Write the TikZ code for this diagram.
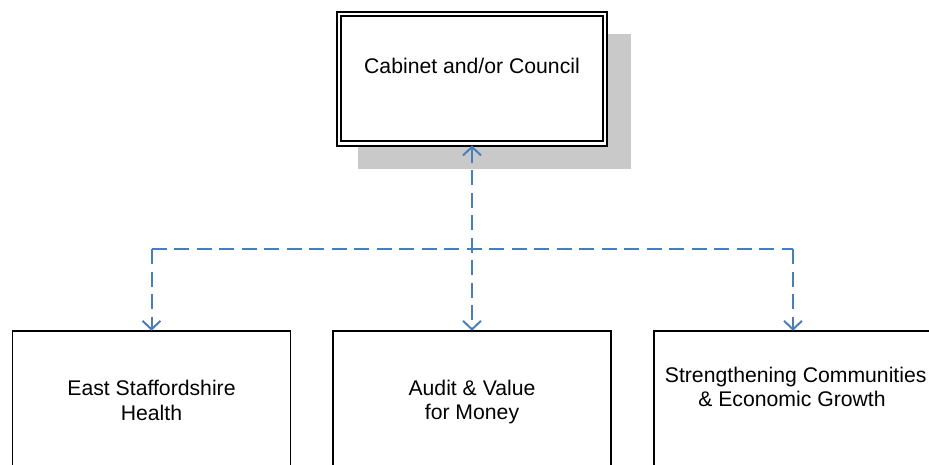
\documentclass[tikz,border=0pt]{standalone}
\usepackage{fontspec}
\setmainfont{Liberation Sans}
\usetikzlibrary{arrows.meta,calc,backgrounds}
\definecolor{linkblue}{HTML}{4A7EBB}
\definecolor{shadowgrey}{HTML}{C9C9C9}
\begin{document}
\begin{tikzpicture}[x=1pt,y=-1pt,
  labelfont/.style={font=\fontsize{21.2}{24.3}\selectfont},
  panel/.style={draw=black, line width=1.9pt, fill=white, inner sep=0pt,
    outer sep=0pt, minimum width=278pt, minimum height=140pt, anchor=north},
  headpanel/.style={draw=black, double=white, line width=1.9pt,
    double distance=2.4pt, fill=white, inner sep=0pt, outer sep=0pt,
    minimum width=266.2pt, minimum height=129.5pt},
  caption/.style={labelfont, align=center, inner sep=0pt, outer sep=0pt},
  link/.style={draw=linkblue, line width=2pt, dash pattern=on 15pt off 7.5pt,
    >={Straight Barb[length=8.5pt,width=18pt]}},
]
\useasboundingbox (0,0) rectangle (929,465);
\clip (0,0) rectangle (929,465);

% top committee box with its drop shadow
\node[headpanel] (cab) at (472,78.75) {};
\begin{scope}[on background layer]
  \fill[shadowgrey] ($(cab.north west)+(19.55,19.55)$)
    rectangle ($(cab.south east)+(25.85,25.85)$);
\end{scope}
\node[caption, anchor=base] (cabtext) at (472,73.3) {Cabinet and/or Council};

% the three panels below
\node[panel] (b1) at (151.5,330.7) {};
\node[panel] (b2) at (472,330.7) {};
\node[panel] (b3) at (793,330.7) {};

\node[caption, anchor=north] (t1) at (151.5,380.4) {East Staffordshire\\Health};
\node[caption, anchor=north] (t2) at (472,380.0) {Audit \& Value\\for Money};
\node[caption, anchor=north] (t3) at (792,367.0)
  {\hspace*{7.4pt}Strengthening Communities\\\& Economic Growth};

% dashed reporting lines, each branch dashed from its corner
\coordinate (bus) at (472,249);
\draw[link, <->, shorten <=2pt] (cab.south) -- (b2.north);
\draw[link] (b1.north |- bus) -- (b3.north |- bus);
\draw[link, ->] (b1.north |- bus) -- (b1.north);
\draw[link, ->] (b3.north |- bus) -- (b3.north);
\end{tikzpicture}
\end{document}
